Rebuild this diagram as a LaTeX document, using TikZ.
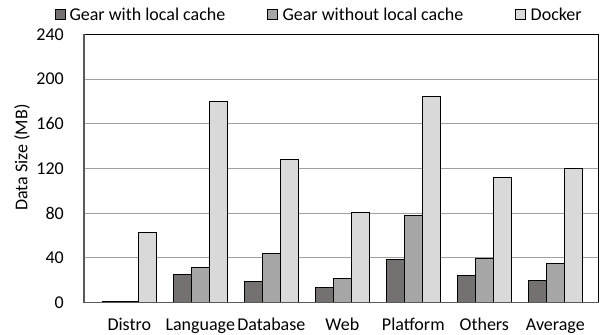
\documentclass[tikz,border=0pt]{standalone}
\usepackage{fontspec}
\setmainfont{Carlito}
\definecolor{cdark}{HTML}{767171}
\definecolor{cmed}{HTML}{A6A6A6}
\definecolor{clight}{HTML}{D9D9D9}
\definecolor{cgrid}{HTML}{A0A0A0}
\definecolor{caxis}{HTML}{595959}
\tikzset{
  txt/.style={inner sep=0pt, font=\fontsize{18}{21}\selectfont},
  bar/.style={draw=black, line width=0.9pt},
  gridline/.style={draw=cgrid, line width=0.9pt},
  legbox/.style={draw=black, line width=0.7pt, minimum size=10pt, inner sep=0pt},
}
\begin{document}
\begin{tikzpicture}[x=1pt,y=-1pt]
\useasboundingbox (0,0) rectangle (603,335);
% plot frame
\coordinate (tl) at (84,34.3);
\coordinate (br) at (598.5,302.3);
% gridlines
\foreach \v in {40,80,...,200}{
  \draw[gridline] (84,{302.3-1.1165*\v}) -- (598.5,{302.3-1.1165*\v});
}
% tick labels
\foreach \v in {0,40,...,240}{
  \node[txt, anchor=east] (t\v) at (64,{302.3-1.1165*\v}) {\v};
}
% bars
\foreach \i/\a/\b/\c/\lab in {0/1/1/63/Distro,1/25.3/31.4/180.3/Language,2/18.8/43.9/127.6/Database,3/13.4/21.2/80.6/Web,4/38.5/77.4/184.7/Platform,5/23.9/39.4/112.2/Others,6/19.4/35/119.8/Average}{
  \pgfmathsetmacro{\xs}{102.3+71*\i}
  \draw[bar, fill=cdark] (\xs,302.3) rectangle ({\xs+18},{302.3-1.1165*\a});
  \draw[bar, fill=cmed] ({\xs+18},302.3) rectangle ({\xs+36},{302.3-1.1165*\b});
  \draw[bar, fill=clight] ({\xs+36},302.3) rectangle ({\xs+54},{302.3-1.1165*\c});
  \node[txt, anchor=base] (c\i) at ({\xs+27},330) {\lab};
}
% frame
\draw[black, line width=0.9pt] (84,34.3) -- (598.5,34.3) -- (598.5,302.3);
\draw[caxis, line width=1.6pt] (84,34.3) -- (84,302.3) -- (598.5,302.3);
% y label
\node[txt, rotate=90, anchor=base] (ylab) at (27.3,157.5) {Data Size (MB)};
% legend
\node[legbox, fill=cdark] (l1) at (60.2,14.5) {};
\node[txt, anchor=base west] (lt1) at (69.3,20.3) {Gear with local cache};
\node[legbox, fill=cmed] (l2) at (272.7,14.5) {};
\node[txt, anchor=base west] (lt2) at (282.3,20.3) {Gear without local cache};
\node[legbox, fill=clight] (l3) at (520.7,14.5) {};
\node[txt, anchor=base west] (lt3) at (530.5,20.3) {Docker};
\end{tikzpicture}
\end{document}
